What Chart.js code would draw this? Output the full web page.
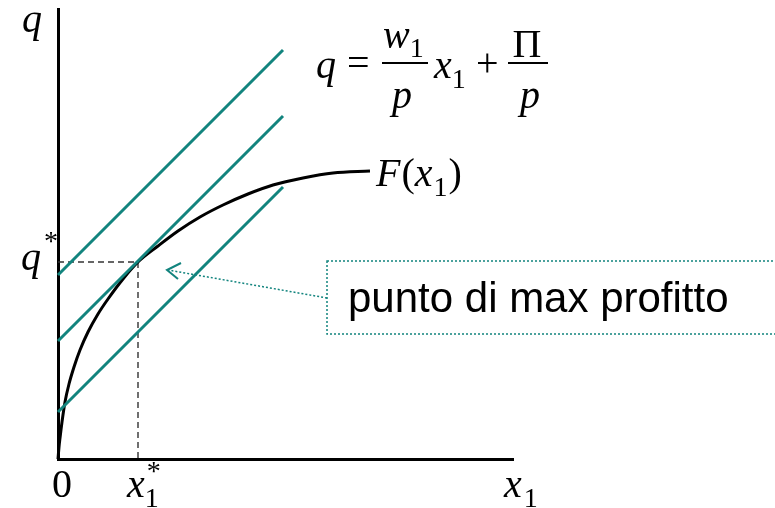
<!DOCTYPE html>
<html>
<head>
<meta charset="utf-8">
<script src="https://cdn.jsdelivr.net/npm/chart.js@4.4.1/dist/chart.umd.min.js"></script>
<style>
  html, body { margin: 0; padding: 0; background: #fff; }
  #wrap { width: 775px; height: 508px; }
</style>
</head>
<body>
<div id="wrap"><canvas id="profitChart" width="775" height="508"></canvas></div>
<script>
// production function F(x1), read point by point
const curveX = [0, 1, 2, 4, 7, 11, 16, 22, 30, 40, 50, 65, 80, 100, 120, 142, 165, 190, 215, 245, 275, 312];
const curveY = [0, 12, 21, 37, 57, 75, 92, 109, 127, 145, 160, 180, 197, 213, 228, 242, 254, 265, 274, 281, 286, 288];

// iso-profit lines (slope w1/p), start and end of each segment
const isoX = [0, 225];
const isoLow = [47, 272];
const isoMid = [118, 343];
const isoHigh = [184, 409];

// optimum
const xStar = 80;
const qStar = 197;

const teal = "#12847e";
const serif = "'Liberation Serif', 'Times New Roman', serif";

function pts(xs, ys) {
  return xs.map(function (x, i) { return { x: x, y: ys[i] }; });
}

function txt(ctx, s, x, y, size, italic) {
  ctx.font = (italic ? "italic " : "") + size + "px " + serif;
  ctx.fillText(s, x, y);
  return x + ctx.measureText(s).width;
}

const labelsPlugin = {
  id: "labels",
  afterDraw: function (chart) {
    const ctx = chart.ctx;
    const sx = chart.scales.x;
    const sy = chart.scales.y;
    const x0 = sx.getPixelForValue(0);
    const yS = sy.getPixelForValue(qStar);
    const xS = sx.getPixelForValue(xStar);
    const yBase = sy.getPixelForValue(0);
    ctx.save();
    ctx.fillStyle = "#000";
    ctx.textBaseline = "alphabetic";

    // axis names
    txt(ctx, "q", x0 - 36, 32, 40, true);
    let e = txt(ctx, "x", sx.right - 9, yBase + 38, 40, true);
    txt(ctx, "1", e + 2, yBase + 48, 28, false);

    // q* and x1*
    e = txt(ctx, "q", x0 - 37, yS + 8, 40, true);
    txt(ctx, "*", e + 3, yS - 12, 28, false);
    txt(ctx, "0", x0 - 6, yBase + 38, 40, false);
    e = txt(ctx, "x", xS - 11, yBase + 38, 40, true);
    txt(ctx, "1", e, yBase + 48, 28, false);
    txt(ctx, "*", e + 2, yBase + 21, 28, false);

    // F(x1) at the end of the curve
    const fx = sx.getPixelForValue(curveX[curveX.length - 1]) + 6;
    const fy = sy.getPixelForValue(curveY[curveY.length - 1]) + 15;
    e = txt(ctx, "F", fx, fy, 40, true);
    e = txt(ctx, "(", e + 1, fy, 40, false);
    e = txt(ctx, "x", e, fy, 40, true);
    e = txt(ctx, "1", e + 1, fy + 10, 28, false);
    txt(ctx, ")", e + 1, fy, 40, false);

    // q = w1/p x1 + Π/p
    const mid = 63;
    txt(ctx, "q", 316, 78, 40, true);
    txt(ctx, "=", 347, 76, 40, false);
    ctx.fillRect(382, mid - 1, 46, 2);
    e = txt(ctx, "w", 383, 48, 40, true);
    txt(ctx, "1", e, 57, 28, false);
    txt(ctx, "p", 392, 108, 40, true);
    e = txt(ctx, "x", 434, 78, 40, true);
    txt(ctx, "1", e, 88, 28, false);
    txt(ctx, "+", 476, 76, 40, false);
    ctx.fillRect(508, mid - 1, 40, 2);
    ctx.textAlign = "center";
    txt(ctx, "\u03A0", 527, 57, 40, false);
    txt(ctx, "p", 530, 108, 40, true);
    ctx.textAlign = "left";

    // callout box with dotted arrow
    ctx.strokeStyle = teal;
    ctx.lineWidth = 1.5;
    ctx.setLineDash([2, 2]);
    ctx.strokeRect(327, 261, 470, 73);
    ctx.beginPath();
    ctx.moveTo(327, 298);
    ctx.lineTo(168, 270);
    ctx.stroke();
    ctx.setLineDash([]);
    ctx.lineWidth = 2;
    ctx.beginPath();
    ctx.moveTo(181, 263);
    ctx.lineTo(167, 270);
    ctx.lineTo(178, 279);
    ctx.stroke();

    ctx.font = "42px 'Liberation Sans', Arial, sans-serif";
    ctx.fillText("punto di max profitto", 348, 312);
    ctx.restore();
  }
};

const ctx = document.getElementById("profitChart").getContext("2d");

new Chart(ctx, {
  type: "scatter",
  data: {
    datasets: [
      { data: pts(isoX, isoHigh), borderColor: teal, borderWidth: 3, order: 0 },
      { data: pts(isoX, isoMid), borderColor: teal, borderWidth: 3, order: 0 },
      { data: pts(isoX, isoLow), borderColor: teal, borderWidth: 3, order: 0 },
      {
        data: pts(curveX, curveY),
        borderColor: "#000",
        borderWidth: 3,
        cubicInterpolationMode: "monotone",
        order: 1,
      },
      {
        data: [{ x: 0, y: qStar }, { x: xStar, y: qStar }, { x: xStar, y: 0 }],
        borderColor: "#333",
        borderWidth: 1.4,
        borderDash: [6, 4],
        order: 2,
      },
    ],
  },
  options: {
    responsive: false,
    animation: false,
    showLine: true,
    elements: { point: { radius: 0, hoverRadius: 0 } },
    datasets: { scatter: { clip: false, fill: false } },
    layout: { padding: { left: 50, top: 9, right: 262, bottom: 41 } },
    plugins: { legend: { display: false }, tooltip: { enabled: false } },
    scales: {
      x: {
        type: "linear",
        min: 0,
        max: 455,
        grid: { display: false },
        ticks: { display: false },
        border: { display: true, color: "#000", width: 3 },
      },
      y: {
        type: "linear",
        min: 0,
        max: 450,
        grid: { display: false },
        ticks: { display: false },
        border: { display: true, color: "#000", width: 3 },
      },
    },
  },
  plugins: [labelsPlugin],
});
</script>
</body>
</html>
